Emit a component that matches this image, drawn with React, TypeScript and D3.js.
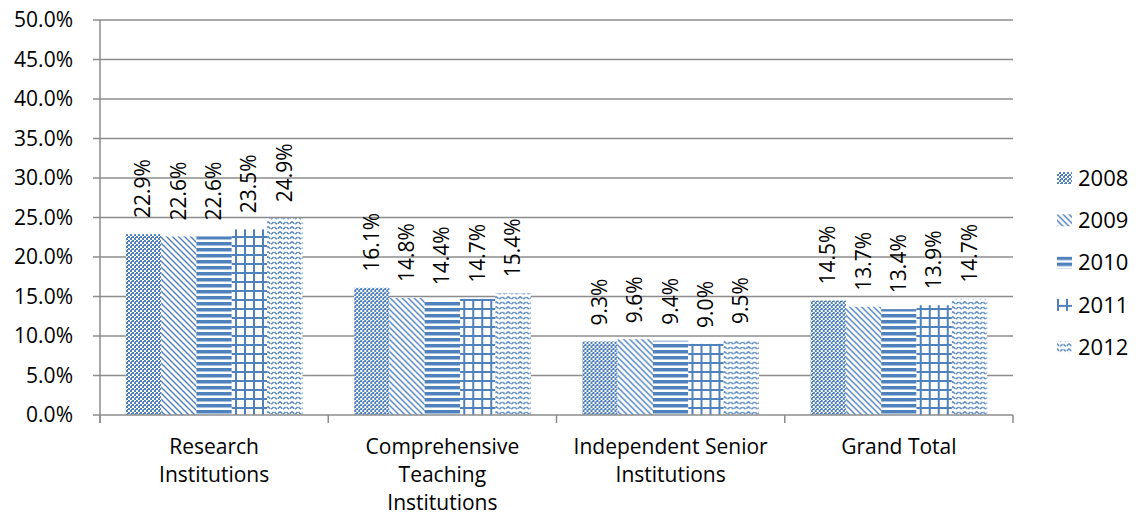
import React, { useEffect, useRef } from "react";
import * as d3 from "d3";

const categories = [
  ["Research", "Institutions"],
  ["Comprehensive", "Teaching", "Institutions"],
  ["Independent Senior", "Institutions"],
  ["Grand Total"],
];
const years = ["2008", "2009", "2010", "2011", "2012"];
const v2008 = [22.9, 16.1, 9.3, 14.5];
const v2009 = [22.6, 14.8, 9.6, 13.7];
const v2010 = [22.6, 14.4, 9.4, 13.4];
const v2011 = [23.5, 14.7, 9.0, 13.9];
const v2012 = [24.9, 15.4, 9.5, 14.7];
const yTicks = [0, 5, 10, 15, 20, 25, 30, 35, 40, 45, 50];

const BLUE = "#4F81BD";
const FONT = "'Open Sans', 'Noto Sans', sans-serif";

export default function App() {
  const ref = useRef<SVGSVGElement>(null);

  useEffect(() => {
    document.body.style.margin = "0";
    const series = [v2008, v2009, v2010, v2011, v2012];
    const margin = { top: 20, left: 100, right: 126, bottom: 116 };
    const W = 1139, H = 531;
    const width = W - margin.left - margin.right;
    const height = H - margin.top - margin.bottom;

    const svg = d3.select(ref.current);
    svg.selectAll("*").remove();

    // patterns
    const defs = svg.append("defs");
    const pat = (id: string, w: number, h: number) =>
      defs
        .append("pattern")
        .attr("id", id)
        .attr("patternUnits", "userSpaceOnUse")
        .attr("width", w)
        .attr("height", h);

    // 2008 weave / checker
    let p = pat("p0", 4, 4);
    p.append("rect").attr("width", 4).attr("height", 4).attr("fill", "white");
    p.append("rect").attr("x", 0).attr("y", 0).attr("width", 2).attr("height", 2).attr("fill", BLUE);
    p.append("rect").attr("x", 2).attr("y", 2).attr("width", 2).attr("height", 2).attr("fill", BLUE);
    p.append("rect").attr("x", 1).attr("y", 1).attr("width", 1).attr("height", 1).attr("fill", BLUE);
    p.append("rect").attr("x", 3).attr("y", 1).attr("width", 1).attr("height", 1).attr("fill", BLUE);

    // 2009 downward diagonal
    p = pat("p1", 6, 6);
    p.append("rect").attr("width", 6).attr("height", 6).attr("fill", "white");
    p.append("path").attr("d", "M-1,-1 L7,7 M-1,5 L1,7 M5,-1 L7,1")
      .attr("stroke", BLUE).attr("stroke-width", 1.4);

    // 2010 horizontal lines
    p = pat("p2", 6, 6);
    p.append("rect").attr("width", 6).attr("height", 6).attr("fill", "white");
    p.append("rect").attr("y", 0).attr("width", 6).attr("height", 3.5).attr("fill", BLUE);

    // 2011 grid
    p = pat("p3", 9, 9);
    p.append("rect").attr("width", 9).attr("height", 9).attr("fill", "white");
    p.append("rect").attr("x", 0).attr("width", 2).attr("height", 9).attr("fill", BLUE);
    p.append("rect").attr("y", 0).attr("width", 9).attr("height", 2).attr("fill", BLUE);

    // 2012 wave
    p = pat("p4", 12, 10);
    p.append("rect").attr("width", 12).attr("height", 10).attr("fill", "white");
    p.append("path").attr("d", "M0,1.5 L3,4.5 L6,1.5 L9,4.5 L12,1.5")
      .attr("fill", "none").attr("stroke", BLUE).attr("stroke-width", 1.4)
      .attr("stroke-dasharray", "3.2 1.4");
    p.append("path").attr("d", "M0,6.5 L3,9.5 L6,6.5 L9,9.5 L12,6.5")
      .attr("fill", "none").attr("stroke", BLUE).attr("stroke-width", 1.4)
      .attr("stroke-dasharray", "3.2 1.4");

    const g = svg.append("g").attr("transform", `translate(${margin.left},${margin.top})`);

    const x0 = d3.scaleBand<number>().domain(d3.range(categories.length)).range([0, width]).paddingInner(0).paddingOuter(0);
    const x1 = d3.scaleBand<number>().domain(d3.range(years.length)).range([0, x0.bandwidth()]).paddingOuter(0.73).paddingInner(0);
    const y = d3.scaleLinear().domain([0, 50]).range([height, 0]);

    // gridlines
    g.selectAll("line.grid")
      .data(yTicks.slice(1))
      .enter()
      .append("line")
      .attr("x1", -7)
      .attr("x2", width)
      .attr("y1", (d) => y(d))
      .attr("y2", (d) => y(d))
      .attr("stroke", "#8c8c8c")
      .attr("stroke-width", 1.5);

    // y labels
    g.selectAll("text.ytick")
      .data(yTicks)
      .enter()
      .append("text")
      .attr("x", -27)
      .attr("y", (d) => y(d))
      .attr("dy", "0.35em")
      .attr("text-anchor", "end")
      .attr("font-family", FONT)
      .attr("font-size", 21)
      .text((d) => d.toFixed(1) + "%");

    // bars
    categories.forEach((_, ci) => {
      const cg = g.append("g").attr("transform", `translate(${x0(ci)},0)`);
      series.forEach((s, si) => {
        const v = s[ci];
        cg.append("rect")
          .attr("x", x1(si)!)
          .attr("y", y(v))
          .attr("width", x1.bandwidth())
          .attr("height", height - y(v))
          .attr("fill", `url(#p${si})`);
        const cx = x1(si)! + x1.bandwidth() / 2;
        cg.append("text")
          .attr("transform", `translate(${cx + 7},${y(v) - 16}) rotate(-90)`)
          .attr("font-family", FONT)
          .attr("font-size", 21)
          .text(v.toFixed(1) + "%");
      });
    });

    // axes
    g.append("line").attr("x1", 0).attr("x2", 0).attr("y1", 0).attr("y2", height + 8)
      .attr("stroke", "#8c8c8c").attr("stroke-width", 1.5);
    g.append("line").attr("x1", -7).attr("x2", width).attr("y1", height).attr("y2", height)
      .attr("stroke", "#8c8c8c").attr("stroke-width", 1.5);
    d3.range(categories.length + 1).forEach((i) => {
      const xx = i < categories.length ? x0(i)! : width;
      g.append("line").attr("x1", xx).attr("x2", xx).attr("y1", height).attr("y2", height + 8)
        .attr("stroke", "#8c8c8c").attr("stroke-width", 1.5);
    });

    // category labels
    categories.forEach((lines, ci) => {
      const t = g.append("text")
        .attr("text-anchor", "middle")
        .attr("font-family", FONT)
        .attr("font-size", 21);
      lines.forEach((ln, li) => {
        t.append("tspan")
          .attr("x", x0(ci)! + x0.bandwidth() / 2)
          .attr("y", height + 39 + li * 28)
          .text(ln);
      });
    });

    // legend
    const lg = svg.append("g").attr("transform", "translate(1057,178)");
    years.forEach((yr, i) => {
      const row = lg.append("g").attr("transform", `translate(0,${i * 42.3})`);
      row.append("rect").attr("x", 0).attr("y", -6).attr("width", 15).attr("height", 12)
        .attr("fill", `url(#p${i})`);
      row.append("text").attr("x", 21).attr("y", 0).attr("dy", "0.35em")
        .attr("font-family", FONT).attr("font-size", 22).text(yr);
    });
  }, []);

  return <svg ref={ref} width={1139} height={531} style={{ display: "block", background: "white" }} />;
}
